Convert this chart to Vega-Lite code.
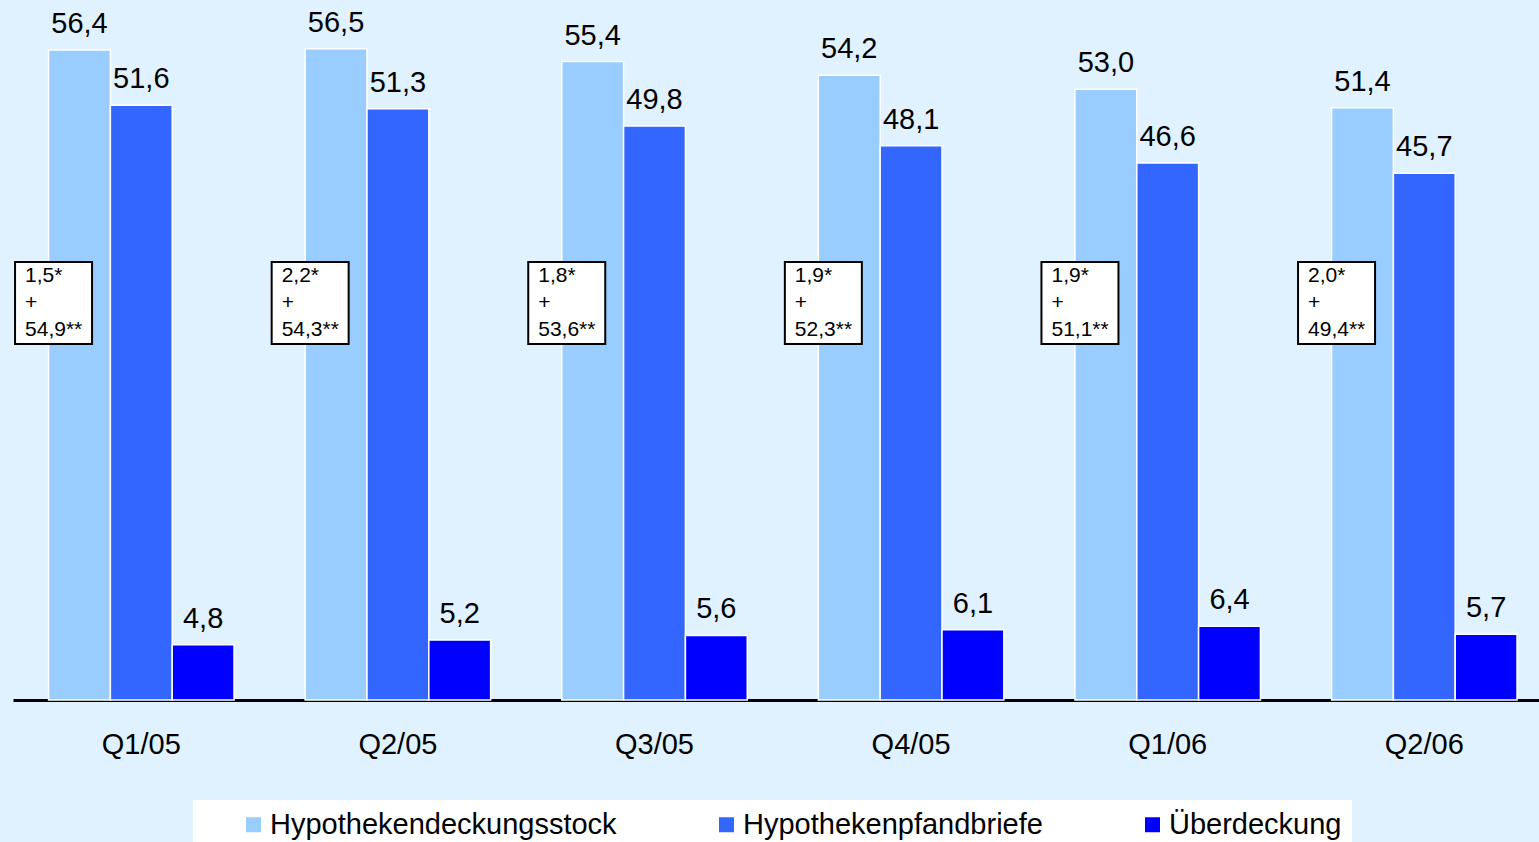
{
  "$schema": "https://vega.github.io/schema/vega-lite/v6.json",
  "autosize": {"type": "none"},
  "width": 1526,
  "height": 700,
  "padding": {"left": 13, "top": 0, "right": 0, "bottom": 142},
  "background": "#E0F2FF",
  "config": {
    "view": {"stroke": null},
    "font": "Liberation Sans",
    "locale": {"number": {"decimal": ",", "thousands": ".", "grouping": [3], "currency": ["", " €"]}}
  },
  "datasets": {
    "bars": [
      {"quarter": "Q1/05", "series": "Hypothekendeckungsstock", "value": 56.4},
      {"quarter": "Q1/05", "series": "Hypothekenpfandbriefe", "value": 51.6},
      {"quarter": "Q1/05", "series": "Überdeckung", "value": 4.8},
      {"quarter": "Q2/05", "series": "Hypothekendeckungsstock", "value": 56.5},
      {"quarter": "Q2/05", "series": "Hypothekenpfandbriefe", "value": 51.3},
      {"quarter": "Q2/05", "series": "Überdeckung", "value": 5.2},
      {"quarter": "Q3/05", "series": "Hypothekendeckungsstock", "value": 55.4},
      {"quarter": "Q3/05", "series": "Hypothekenpfandbriefe", "value": 49.8},
      {"quarter": "Q3/05", "series": "Überdeckung", "value": 5.6},
      {"quarter": "Q4/05", "series": "Hypothekendeckungsstock", "value": 54.2},
      {"quarter": "Q4/05", "series": "Hypothekenpfandbriefe", "value": 48.1},
      {"quarter": "Q4/05", "series": "Überdeckung", "value": 6.1},
      {"quarter": "Q1/06", "series": "Hypothekendeckungsstock", "value": 53.0},
      {"quarter": "Q1/06", "series": "Hypothekenpfandbriefe", "value": 46.6},
      {"quarter": "Q1/06", "series": "Überdeckung", "value": 6.4},
      {"quarter": "Q2/06", "series": "Hypothekendeckungsstock", "value": 51.4},
      {"quarter": "Q2/06", "series": "Hypothekenpfandbriefe", "value": 45.7},
      {"quarter": "Q2/06", "series": "Überdeckung", "value": 5.7}
    ],
    "notes": [
      {"quarter": "Q1/05", "note": "1,5*\n+\n54,9**"},
      {"quarter": "Q2/05", "note": "2,2*\n+\n54,3**"},
      {"quarter": "Q3/05", "note": "1,8*\n+\n53,6**"},
      {"quarter": "Q4/05", "note": "1,9*\n+\n52,3**"},
      {"quarter": "Q1/06", "note": "1,9*\n+\n51,1**"},
      {"quarter": "Q2/06", "note": "2,0*\n+\n49,4**"}
    ]
  },
  "encoding": {
    "x": {
      "field": "quarter", "type": "nominal",
      "sort": ["Q1/05", "Q2/05", "Q3/05", "Q4/05", "Q1/06", "Q2/06"],
      "scale": {"range": [0, 1539.6], "paddingInner": 0.2771, "paddingOuter": 0.13855},
      "axis": {
        "title": null, "labelAngle": 0, "ticks": false,
        "domainColor": "#000000", "domainWidth": 3,
        "labelFontSize": 29, "labelColor": "#000000", "labelPadding": 30,
        "labelFont": "Liberation Sans"
      }
    }
  },
  "layer": [
    {
      "data": {"name": "bars"},
      "mark": {"type": "bar", "stroke": "#FFFFFF", "strokeWidth": 1.5},
      "encoding": {
        "xOffset": {
          "field": "series", "type": "nominal",
          "sort": ["Hypothekendeckungsstock", "Hypothekenpfandbriefe", "Überdeckung"],
          "scale": {"paddingInner": 0, "paddingOuter": 0}
        },
        "y": {
          "field": "value", "type": "quantitative",
          "scale": {"domain": [0, 60.74], "nice": false, "zero": true},
          "axis": null
        },
        "color": {
          "field": "series", "type": "nominal",
          "sort": ["Hypothekendeckungsstock", "Hypothekenpfandbriefe", "Überdeckung"],
          "scale": {"domain": ["Hypothekendeckungsstock", "Hypothekenpfandbriefe", "Überdeckung"], "range": ["#99CCFF", "#3366FF", "#0000FF"]},
          "legend": {
            "title": null, "orient": "none", "legendX": 180, "legendY": 800,
            "direction": "horizontal", "fillColor": "#FFFFFF", "padding": 10,
            "symbolType": "square", "symbolSize": 225, "symbolStrokeWidth": 0,
            "symbolOffset": 36, "labelOffset": 2, "columnPadding": 59,
            "labelFontSize": 29, "labelColor": "#000000", "labelFont": "Liberation Sans",
            "labelLimit": 700
          }
        }
      }
    },
    {
      "data": {"name": "bars"},
      "mark": {"type": "text", "align": "center", "baseline": "alphabetic", "dy": -17, "fontSize": 29, "color": "#000000"},
      "encoding": {
        "xOffset": {
          "field": "series", "type": "nominal",
          "sort": ["Hypothekendeckungsstock", "Hypothekenpfandbriefe", "Überdeckung"]
        },
        "y": {"field": "value", "type": "quantitative"},
        "text": {"field": "value", "type": "quantitative", "format": ".1f"}
      }
    },
    {
      "data": {"name": "notes"},
      "mark": {
        "type": "point", "shape": "M-0.939,-1H0.939V1H-0.939Z",
        "size": 6724, "filled": true, "fill": "#FFFFFF", "stroke": "#000000",
        "strokeWidth": 2, "opacity": 1, "fillOpacity": 1, "strokeOpacity": 1,
        "xOffset": 5
      },
      "encoding": {
        "x": {"field": "quarter", "type": "nominal", "sort": ["Q1/05", "Q2/05", "Q3/05", "Q4/05", "Q1/06", "Q2/06"], "bandPosition": 0},
        "y": {"datum": 34.45, "type": "quantitative"}
      }
    },
    {
      "data": {"name": "notes"},
      "mark": {
        "type": "text", "align": "left", "baseline": "middle", "dx": -23.5, "dy": -27,
        "fontSize": 21, "lineHeight": 27, "lineBreak": "\n", "color": "#000000"
      },
      "encoding": {
        "x": {"field": "quarter", "type": "nominal", "sort": ["Q1/05", "Q2/05", "Q3/05", "Q4/05", "Q1/06", "Q2/06"], "bandPosition": 0},
        "y": {"datum": 34.45, "type": "quantitative"},
        "text": {"field": "note", "type": "nominal"}
      }
    }
  ]
}
